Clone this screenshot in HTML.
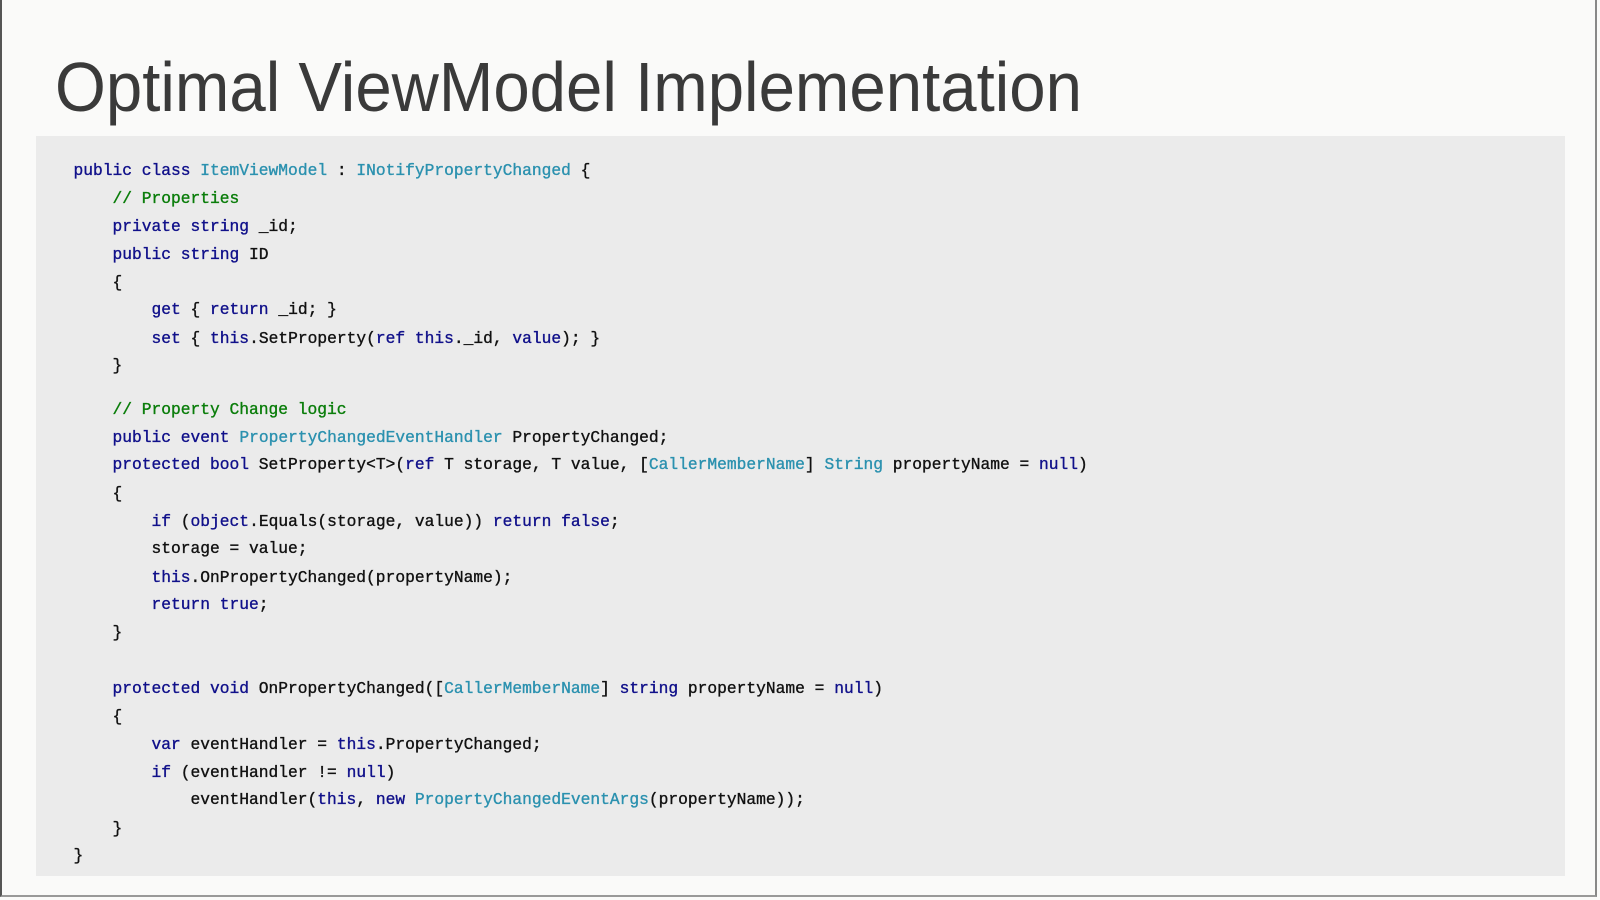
<!DOCTYPE html>
<html><head><meta charset="utf-8"><style>
html,body{margin:0;padding:0}
body{width:1600px;height:900px;background:#fafaf9;position:relative;overflow:hidden;font-family:"Liberation Sans",sans-serif}
.frame{position:absolute;left:0;top:0;width:1597px;height:897px;border-left:2px solid #555;border-right:2px solid #888;border-bottom:2px solid #999;box-sizing:border-box}
.panel{position:absolute;left:36px;top:136px;width:1529px;height:740px;background:#ebebeb}
.l{position:absolute;left:73.5px;font-family:"Liberation Mono",monospace;font-size:16.25px;line-height:28px;height:28px;white-space:pre;color:#111;-webkit-text-stroke:0.35px currentColor}
.k{color:#10108a}.t{color:#2b91af}.c{color:#0a7d0a}
</style></head><body>
<div class="frame"></div>
<svg style="position:absolute;left:0;top:0" width="1600" height="140"><text x="55" y="111" font-family="Liberation Sans, sans-serif" font-size="70" fill="#3a3a3a" textLength="1027" lengthAdjust="spacingAndGlyphs">Optimal ViewModel Implementation</text></svg>
<div class="panel"></div>
<div class="l" style="top:156.5px"><span class="k">public class</span> <span class="t">ItemViewModel</span> : <span class="t">INotifyPropertyChanged</span> {</div>
<div class="l" style="top:185px">    <span class="c">// Properties</span></div>
<div class="l" style="top:212.5px">    <span class="k">private string</span> _id;</div>
<div class="l" style="top:241px">    <span class="k">public string</span> ID</div>
<div class="l" style="top:268.5px">    {</div>
<div class="l" style="top:296px">        <span class="k">get</span> { <span class="k">return</span> _id; }</div>
<div class="l" style="top:324.5px">        <span class="k">set</span> { <span class="k">this</span>.SetProperty(<span class="k">ref this</span>._id, <span class="k">value</span>); }</div>
<div class="l" style="top:352px">    }</div>
<div class="l" style="top:396px">    <span class="c">// Property Change logic</span></div>
<div class="l" style="top:423.5px">    <span class="k">public event</span> <span class="t">PropertyChangedEventHandler</span> PropertyChanged;</div>
<div class="l" style="top:451px">    <span class="k">protected bool</span> SetProperty&lt;T&gt;(<span class="k">ref</span> T storage, T value, [<span class="t">CallerMemberName</span>] <span class="t">String</span> propertyName = <span class="k">null</span>)</div>
<div class="l" style="top:480px">    {</div>
<div class="l" style="top:507.5px">        <span class="k">if</span> (<span class="k">object</span>.Equals(storage, value)) <span class="k">return false</span>;</div>
<div class="l" style="top:535px">        storage = value;</div>
<div class="l" style="top:563.5px">        <span class="k">this</span>.OnPropertyChanged(propertyName);</div>
<div class="l" style="top:591px">        <span class="k">return true</span>;</div>
<div class="l" style="top:618.5px">    }</div>
<div class="l" style="top:675px">    <span class="k">protected void</span> OnPropertyChanged([<span class="t">CallerMemberName</span>] <span class="k">string</span> propertyName = <span class="k">null</span>)</div>
<div class="l" style="top:703px">    {</div>
<div class="l" style="top:731px">        <span class="k">var</span> eventHandler = <span class="k">this</span>.PropertyChanged;</div>
<div class="l" style="top:758.5px">        <span class="k">if</span> (eventHandler != <span class="k">null</span>)</div>
<div class="l" style="top:786px">            eventHandler(<span class="k">this</span>, <span class="k">new</span> <span class="t">PropertyChangedEventArgs</span>(propertyName));</div>
<div class="l" style="top:814.5px">    }</div>
<div class="l" style="top:842px">}</div>
</body></html>
